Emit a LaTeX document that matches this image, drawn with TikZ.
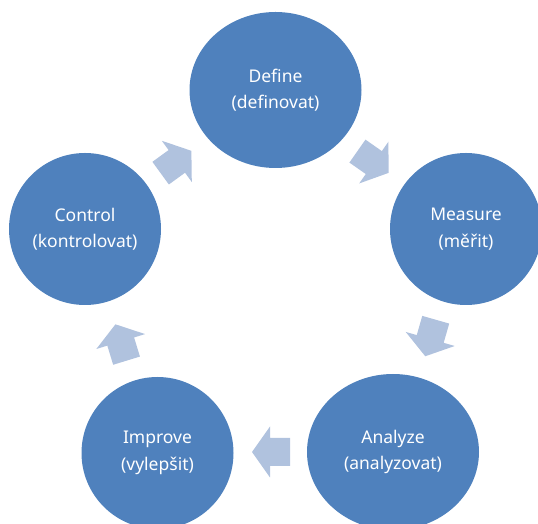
\documentclass[tikz,border=0pt]{standalone}
\usepackage{fontspec}
\setmainfont{Noto Sans}
\usetikzlibrary{shapes.geometric}
\definecolor{stageblue}{HTML}{4F81BD}
\definecolor{arrowblue}{HTML}{B0C2DE}
\begin{document}
\begin{tikzpicture}[x=1pt,y=1pt,
  stage/.style={fill=stageblue, draw=none, text=white, align=center,
    font=\fontsize{17.5}{26.5}\selectfont, inner sep=0pt},
  roundstage/.style={stage, circle, minimum size=152},
  ovalstage/.style={stage, ellipse, minimum width=172, minimum height=156},
  cyclearrow/.pic={\fill[arrowblue] (-19,-14) -- (1,-14) -- (1,-25.5) -- (19,0)
      -- (1,25.5) -- (1,14) -- (-19,14) -- cycle;}]
\useasboundingbox (0,0) rectangle (538,524);
\clip (0,0) rectangle (538,524);
\node[ovalstage]  (def) at (275.5,434) {Define\\(definovat)};
\node[roundstage] (mea) at (466,295)   {Measure\\(měřit)};
\node[ovalstage]  (ana) at (393,72)    {Analyze\\(analyzovat)};
\node[roundstage] (imp) at (157.5,71)  {Improve\\(vylepšit)};
\node[roundstage] (con) at (85,295)    {Control\\(kontrolovat)};
\pic[rotate=-35]  at (373,362)   {cyclearrow};
\pic[rotate=-106] at (430.5,186) {cyclearrow};
\pic[rotate=180]  at (271,72)    {cyclearrow};
\pic[rotate=107]  at (121,181.5) {cyclearrow};
\pic[rotate=36]   at (176,362)   {cyclearrow};
\end{tikzpicture}
\end{document}
